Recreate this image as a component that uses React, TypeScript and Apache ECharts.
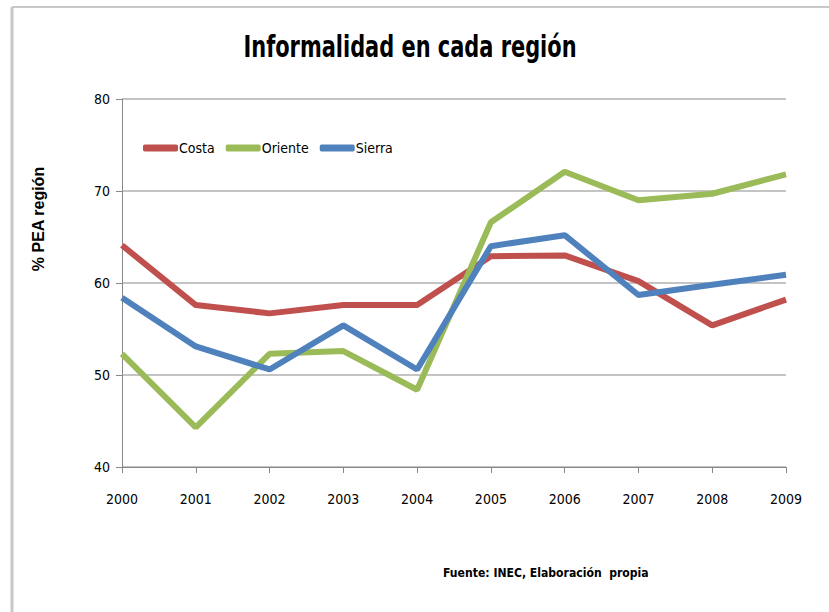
import React, { useEffect, useRef } from "react";
import * as echarts from "echarts";

const years = ["2000", "2001", "2002", "2003", "2004", "2005", "2006", "2007", "2008", "2009"];
const costa = [64.1, 57.6, 56.7, 57.6, 57.6, 62.9, 63.0, 60.2, 55.4, 58.2];
const oriente = [52.3, 44.3, 52.3, 52.6, 48.4, 66.6, 72.1, 69.0, 69.7, 71.8];
const sierra = [58.4, 53.1, 50.6, 55.4, 50.6, 64.0, 65.2, 58.7, 59.8, 60.9];

const NARROW = "'Liberation Sans Narrow', 'DejaVu Sans Condensed', sans-serif";

export default function App() {
  const ref = useRef<HTMLDivElement>(null);
  useEffect(() => {
    document.body.style.margin = "0";
    const chart = echarts.init(ref.current!, undefined, { renderer: "svg" });
    const mk = (name: string, data: number[], color: string) => ({
      name,
      type: "line",
      data,
      symbol: "none",
      smooth: false,
      lineStyle: { width: 6, color },
      itemStyle: { color },
    });
    chart.setOption({
      animation: false,
      backgroundColor: "#ffffff",
      legend: {
        left: 138,
        top: 136,
        icon: "roundRect",
        itemWidth: 35,
        itemHeight: 7,
        itemGap: 11,
        textStyle: { fontFamily: NARROW, fontSize: 14, color: "#000", padding: [0, 0, 0, -4] },
        data: ["Costa", "Oriente", "Sierra"],
      },
      grid: { left: 122, right: 43, top: 99, bottom: 145, containLabel: false },
      xAxis: {
        type: "category",
        data: years,
        boundaryGap: false,
        axisLine: { lineStyle: { color: "#888", width: 1 } },
        axisTick: { show: true, alignWithLabel: true, length: 6, lineStyle: { color: "#888" } },
        axisLabel: { margin: 25, fontFamily: NARROW, fontSize: 14, color: "#000" },
      },
      yAxis: {
        type: "value",
        min: 40,
        max: 80,
        interval: 10,
        axisLine: { show: true, lineStyle: { color: "#888", width: 1 } },
        axisTick: { show: true, length: 6, lineStyle: { color: "#888" } },
        axisLabel: { margin: 12, fontFamily: NARROW, fontSize: 14, color: "#000" },
        splitLine: { show: true, lineStyle: { color: "#b0b0b0", width: 1.5 } },
      },
      graphic: [
        { type: "line", shape: { x1: 12, y1: 7, x2: 829, y2: 7 }, style: { stroke: "#c8c8c8", lineWidth: 2 } },
        { type: "line", shape: { x1: 12, y1: 7, x2: 12, y2: 612 }, style: { stroke: "#c8c8c8", lineWidth: 3 } },
        {
          type: "text",
          x: 410,
          y: 46,
          scaleX: 0.75,
          style: {
            text: "Informalidad en cada región",
            font: `bold 31px ${NARROW}`,
            fill: "#000",
            align: "center",
            verticalAlign: "middle",
          },
        },
        {
          type: "text",
          x: 38,
          y: 219,
          rotation: Math.PI / 2,
          style: {
            text: "% PEA región",
            font: "bold 16px 'Liberation Sans', Arial, sans-serif",
            fill: "#000",
            align: "center",
            verticalAlign: "middle",
          },
        },
        {
          type: "text",
          x: 443,
          y: 572,
          scaleX: 0.93,
          style: {
            text: "Fuente: INEC, Elaboración  propia",
            font: `bold 13px ${NARROW}`,
            fill: "#000",
            verticalAlign: "middle",
          },
        },
      ],
      series: [mk("Costa", costa, "#C0504D"), mk("Oriente", oriente, "#9BBB59"), mk("Sierra", sierra, "#4F81BD")],
    });
    return () => chart.dispose();
  }, []);
  return <div ref={ref} style={{ width: 829, height: 612 }} />;
}
